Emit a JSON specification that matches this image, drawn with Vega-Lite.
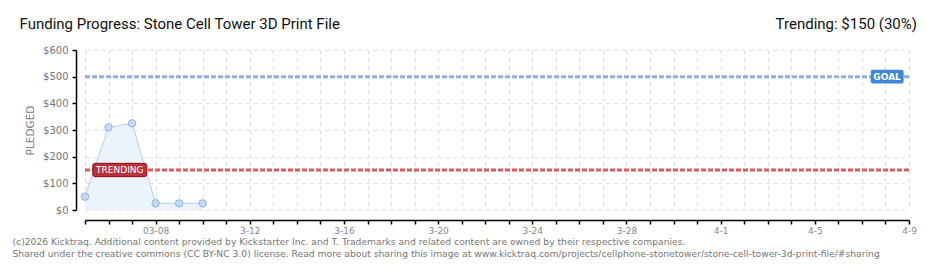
{
  "$schema": "https://vega.github.io/schema/vega-lite/v6.json",
  "width": 824,
  "height": 160,
  "autosize": {"type": "none"},
  "padding": {"left": 85, "top": 50, "right": 31, "bottom": 60},
  "background": "white",
  "config": {"view": {"stroke": null}, "axis": {"labelOverlap": false}, "axisY": {"labelOverlap": false}, "axisX": {"labelOverlap": false}},
  "datasets": {
    "pledges": [
      {"date": "2026-03-05", "amount": 50},
      {"date": "2026-03-06", "amount": 310},
      {"date": "2026-03-07", "amount": 325},
      {"date": "2026-03-08", "amount": 25},
      {"date": "2026-03-09", "amount": 25},
      {"date": "2026-03-10", "amount": 25}
    ],
    "goal": [{"label": "GOAL", "amount": 500}],
    "trend": [{"label": "TRENDING", "amount": 150}],
    "title": [{"label": "Funding Progress: Stone Cell Tower 3D Print File"}],
    "header": [{"label": "Trending: $150 (30%)"}]
  },
  "layer": [
    {
      "data": {"name": "pledges"},
      "mark": {"type": "area", "color": "#ebf3fc", "opacity": 1},
      "encoding": {
        "x": {
          "field": "date",
          "type": "temporal",
          "scale": {
            "type": "utc",
            "nice": false,
            "domain": [
              {"year": 2026, "month": 3, "date": 5, "utc": true},
              {"year": 2026, "month": 4, "date": 9, "utc": true}
            ]
          },
          "axis": {
            "offset": 10,
            "tickCount": {"interval": "day", "step": 1},
            "labelExpr": "(round((datum.value - utc(2026,2,8))/864e5) % 4 == 0) ? (round((datum.value - utc(2026,2,8))/864e5) == 0 ? '03-08' : utcFormat(datum.value, '%-m-%-d')) : ''",
            "labelOverlap": false,
            "labelFlush": false,
            "labelColor": "#888888",
            "labelFont": "DejaVu Sans",
            "labelFontSize": 9,
            "labelPadding": 2,
            "domainColor": "#000000",
            "domainWidth": 1.5,
            "tickColor": "#000000",
            "tickWidth": 1.5,
            "tickSize": 4,
            "grid": true,
            "gridColor": "#dcdcdc",
            "gridDash": [4, 4],
            "title": [
              "(c)2026 Kicktraq. Additional content provided by Kickstarter Inc. and T. Trademarks and related content are owned by their respective companies.",
              "Shared under the creative commons (CC BY-NC 3.0) license. Read more about sharing this image at www.kicktraq.com/projects/cellphone-stonetower/stone-cell-tower-3d-print-file/#sharing"
            ],
            "titleX": -73,
            "titleY": 17,
            "titleAlign": "left",
            "titleAnchor": "start",
            "titleBaseline": "top",
            "titleAngle": 0,
            "titleLineHeight": 12.5,
            "titleColor": "#777777",
            "titleFont": "DejaVu Sans",
            "titleFontSize": 9.2,
            "titleFontWeight": "normal"
          }
        },
        "y": {
          "field": "amount",
          "type": "quantitative",
          "scale": {"domain": [0, 600], "nice": false},
          "axis": {
            "offset": 9,
            "tickCount": 12,
            "values": [0, 50, 100, 150, 200, 250, 300, 350, 400, 450, 500, 550, 600],
            "labelExpr": "datum.value % 100 == 0 ? '$' + datum.value : ''",
            "labelOverlap": false,
            "labelColor": "#777777",
            "labelFont": "DejaVu Sans",
            "labelFontSize": 10,
            "labelPadding": 4,
            "domainColor": "#000000",
            "domainWidth": 1.5,
            "tickSize": 4,
            "tickWidth": 1.5,
            "tickColor": {"condition": {"test": "datum.value % 100 == 0", "value": "#000000"}, "value": "#e02020"},
            "grid": true,
            "gridColor": "#e2e2e2",
            "gridDash": [4, 4],
            "gridOpacity": {"condition": {"test": "datum.value % 100 == 0", "value": 1}, "value": 0},
            "title": "PLEDGED",
            "titleColor": "#808080",
            "titleFont": "DejaVu Sans",
            "titleFontSize": 10.5,
            "titleFontWeight": "normal",
            "titlePadding": 7
          }
        }
      }
    },
    {
      "data": {"name": "pledges"},
      "mark": {"type": "line", "color": "#b3d1f1", "strokeWidth": 1},
      "encoding": {
        "x": {"field": "date", "type": "temporal"},
        "y": {"field": "amount", "type": "quantitative"}
      }
    },
    {
      "data": {"name": "pledges"},
      "mark": {"type": "point", "shape": "circle", "filled": true, "fill": "#c5dcf6", "stroke": "#8cb2de", "strokeWidth": 1, "size": 55, "opacity": 1},
      "encoding": {
        "x": {"field": "date", "type": "temporal"},
        "y": {"field": "amount", "type": "quantitative"}
      }
    },
    {
      "data": {"name": "goal"},
      "mark": {"type": "rule", "color": "#8fb0dc", "strokeWidth": 3, "strokeDash": [5, 2]},
      "encoding": {"y": {"field": "amount", "type": "quantitative"}}
    },
    {
      "data": {"name": "trend"},
      "mark": {"type": "rule", "color": "#dc5a60", "strokeWidth": 3, "strokeDash": [5, 2]},
      "encoding": {"y": {"field": "amount", "type": "quantitative"}}
    },
    {
      "data": {"name": "goal"},
      "mark": {"type": "rect", "color": "#3f86d8", "cornerRadius": 2},
      "encoding": {
        "x": {"datum": {"year": 2026, "month": 4, "date": 7, "hours": 9, "utc": true}, "type": "temporal"},
        "x2": {"datum": {"year": 2026, "month": 4, "date": 8, "hours": 18, "minutes": 30, "utc": true}},
        "y": {"datum": 474, "type": "quantitative"},
        "y2": {"datum": 526}
      }
    },
    {
      "data": {"name": "goal"},
      "mark": {"type": "text", "color": "white", "font": "DejaVu Sans", "fontSize": 9, "fontWeight": "bold", "align": "center", "baseline": "middle"},
      "encoding": {
        "x": {"datum": {"year": 2026, "month": 4, "date": 8, "hours": 1, "minutes": 40, "utc": true}, "type": "temporal"},
        "y": {"field": "amount", "type": "quantitative"},
        "text": {"field": "label"}
      }
    },
    {
      "data": {"name": "trend"},
      "mark": {"type": "rect", "color": "#b9323c", "stroke": "#8e0c14", "strokeWidth": 1, "cornerRadius": 2},
      "encoding": {
        "x": {"datum": {"year": 2026, "month": 3, "date": 5, "hours": 8, "utc": true}, "type": "temporal"},
        "x2": {"datum": {"year": 2026, "month": 3, "date": 7, "hours": 15, "utc": true}},
        "y": {"datum": 125, "type": "quantitative"},
        "y2": {"datum": 175}
      }
    },
    {
      "data": {"name": "trend"},
      "mark": {"type": "text", "color": "white", "font": "DejaVu Sans", "fontSize": 9, "fontWeight": "normal", "align": "center", "baseline": "middle"},
      "encoding": {
        "x": {"datum": {"year": 2026, "month": 3, "date": 6, "hours": 11, "minutes": 30, "utc": true}, "type": "temporal"},
        "y": {"field": "amount", "type": "quantitative"},
        "text": {"field": "label"}
      }
    },
    {
      "data": {"name": "title"},
      "mark": {"type": "text", "color": "#111111", "font": "Roboto", "fontSize": 15, "align": "left", "baseline": "alphabetic", "dx": -65.5, "dy": -21},
      "encoding": {
        "x": {"datum": {"year": 2026, "month": 3, "date": 5, "utc": true}, "type": "temporal"},
        "y": {"datum": 600, "type": "quantitative"},
        "text": {"field": "label"}
      }
    },
    {
      "data": {"name": "header"},
      "mark": {"type": "text", "color": "#111111", "font": "Roboto", "fontSize": 15, "align": "right", "baseline": "alphabetic", "dx": 8, "dy": -21},
      "encoding": {
        "x": {"datum": {"year": 2026, "month": 4, "date": 9, "utc": true}, "type": "temporal"},
        "y": {"datum": 600, "type": "quantitative"},
        "text": {"field": "label"}
      }
    }
  ]
}
